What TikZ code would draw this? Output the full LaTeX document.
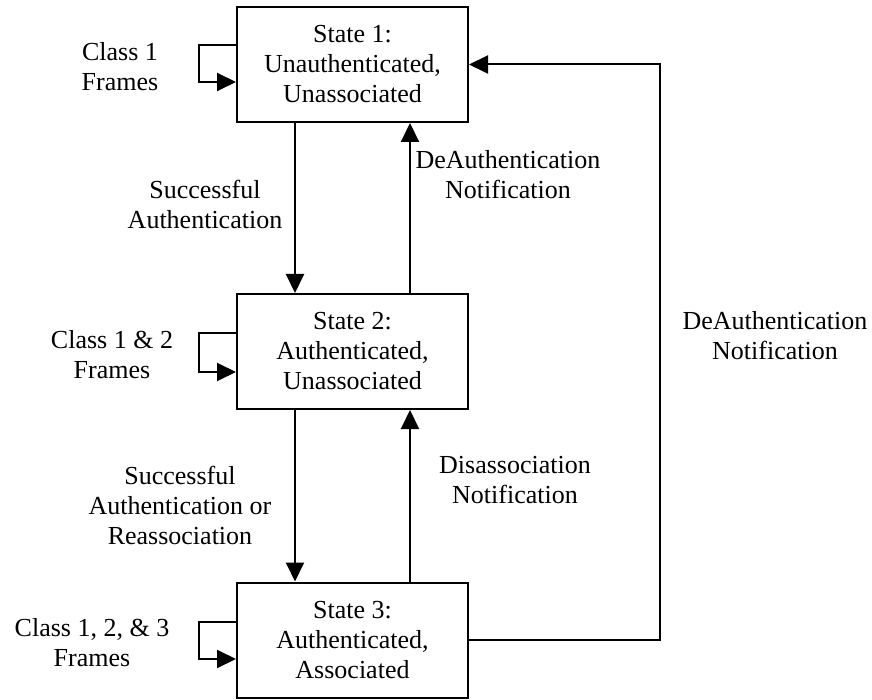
\documentclass[tikz,border=0pt]{standalone}
\usepackage{fontspec}
\setmainfont{Liberation Serif}
\usetikzlibrary{arrows.meta}
\begin{document}
\begin{tikzpicture}[x=1pt,y=-1pt,
  txt/.style={align=center,font=\fontsize{26}{30}\selectfont,inner sep=0pt},
  statebox/.style={draw,line width=2pt,minimum width=231pt,minimum height=115pt,align=center,font=\fontsize{26}{30}\selectfont},
  arr/.style={line width=2pt,-{Triangle[length=19pt,width=18pt]}}]
\useasboundingbox (0,0) rectangle (872,700);
\node[statebox] (s1) at (352.5,64.5) {State 1:\\Unauthenticated,\\Unassociated};
\node[statebox] (s2) at (352.5,351.5) {State 2:\\Authenticated,\\Unassociated};
\node[statebox] (s3) at (352.5,640) {State 3:\\Authenticated,\\Associated};
% vertical transitions
\draw[arr] (s1.south -| 295,0) -- (s2.north -| 295,0);
\draw[arr] (s2.north -| 410,0) -- (s1.south -| 410,0);
\draw[arr] (s2.south -| 295,0) -- (s3.north -| 295,0);
\draw[arr] (s3.north -| 410,0) -- (s2.south -| 410,0);
% right connector
\coordinate (rc) at (660,640);
\draw[arr] (s3.east) -- (rc) |- (s1.east);
% self loops
\draw[arr] (s1.west |- 0,45) -- (199,45) |- (s1.west |- 0,82);
\draw[arr] (s2.west |- 0,333) -- (199,333) |- (s2.west |- 0,372);
\draw[arr] (s3.west |- 0,622) -- (199,622) |- (s3.west |- 0,659);
% labels
\node[txt] (l1) at (120,67) {Class 1\\Frames};
\node[txt] (l2) at (112,355) {Class 1 \& 2\\Frames};
\node[txt] (l3) at (92,643) {Class 1, 2, \& 3\\Frames};
\node[txt] (t1) at (205,204) {Successful\\Authentication};
\node[txt] (t2) at (508,175) {DeAuthentication\\Notification};
\node[txt] (t3) at (180,505) {Successful\\Authentication or\\Reassociation};
\node[txt] (t4) at (515,480) {Disassociation\\Notification};
\node[txt] (t5) at (775,336) {DeAuthentication\\Notification};
\end{tikzpicture}
\end{document}
